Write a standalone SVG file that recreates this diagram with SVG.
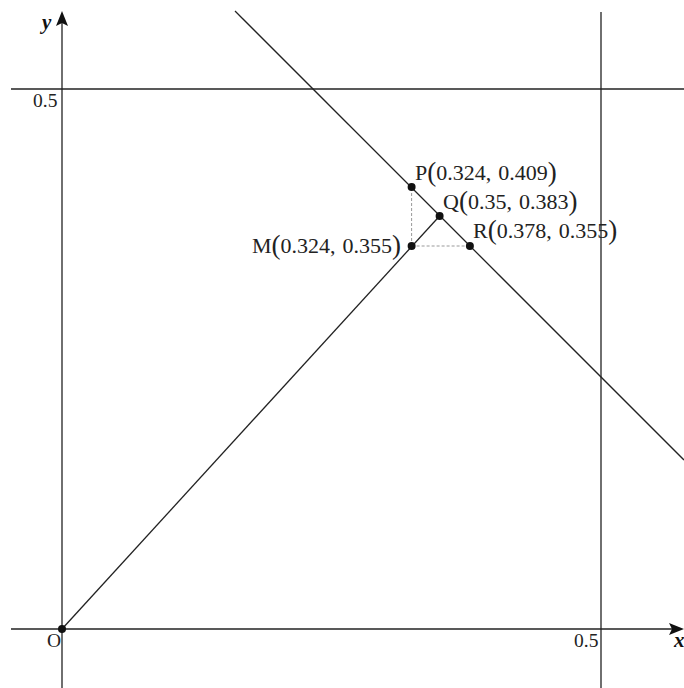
<svg xmlns="http://www.w3.org/2000/svg" width="684" height="688" viewBox="0 0 684 688">
<style>
.ln{stroke:#222;stroke-width:1.3;fill:none}
.dash{stroke:#999;stroke-width:1;stroke-dasharray:3,2;fill:none}
.dot{fill:#111}
.lbl{font-family:"Liberation Serif","Times New Roman",serif;font-size:22px;fill:#222}
.par{font-size:27px}
.tick{font-family:"Liberation Serif","Times New Roman",serif;font-size:19.5px;fill:#222}
.ax{font-family:"Liberation Serif","Times New Roman",serif;font-size:21px;font-style:italic;font-weight:bold;fill:#111}
</style>
<defs>
<path id="ahead" d="M0,0 L-15,-6 L-12,0 L-15,6 Z" fill="#111"/>
</defs>
<g id="axes">
<line class="ln" x1="11" y1="629" x2="676" y2="629"/>
<line class="ln" x1="62" y1="688" x2="62" y2="20"/>
<use href="#ahead" transform="translate(684,629)"/>
<use href="#ahead" transform="translate(62,11) rotate(-90)"/>
<text class="ax" x="42" y="29">y</text>
<text class="ax" x="674" y="647">x</text>
<text class="tick" x="47" y="647">O</text>
<text class="tick" x="574" y="647">0.5</text>
<text class="tick" x="33" y="107">0.5</text>
</g>
<g id="connectors">
<line class="ln" x1="11" y1="89" x2="684" y2="89"/>
<line class="ln" x1="601" y1="12" x2="601" y2="688"/>
<line class="ln" x1="235" y1="11" x2="684" y2="460"/>
<line class="ln" x1="62" y1="629" x2="439.6" y2="216"/>
<line class="dash" x1="411.6" y1="188" x2="411.6" y2="246"/>
<line class="dash" x1="411.6" y1="246" x2="469.9" y2="246"/>
</g>
<g id="O"><circle class="dot" cx="62" cy="629" r="4"/></g>
<g id="P"><circle class="dot" cx="411.6" cy="187" r="4"/>
<text class="lbl" x="415" y="180">P<tspan class="par" dy="1">(</tspan><tspan dy="-1">0.324,</tspan><tspan dx="7">0.409</tspan><tspan class="par" dy="1">)</tspan></text></g>
<g id="Q"><circle class="dot" cx="439.6" cy="216" r="4"/>
<text class="lbl" x="443" y="209">Q<tspan class="par" dy="1">(</tspan><tspan dy="-1">0.35,</tspan><tspan dx="7">0.383</tspan><tspan class="par" dy="1">)</tspan></text></g>
<g id="M"><circle class="dot" cx="411.6" cy="246" r="4"/>
<text class="lbl" x="252" y="253">M<tspan class="par" dy="1">(</tspan><tspan dy="-1">0.324,</tspan><tspan dx="7">0.355</tspan><tspan class="par" dy="1">)</tspan></text></g>
<g id="R"><circle class="dot" cx="469.9" cy="246" r="4"/>
<text class="lbl" x="473" y="238">R<tspan class="par" dy="1">(</tspan><tspan dy="-1">0.378,</tspan><tspan dx="7">0.355</tspan><tspan class="par" dy="1">)</tspan></text></g>
</svg>
